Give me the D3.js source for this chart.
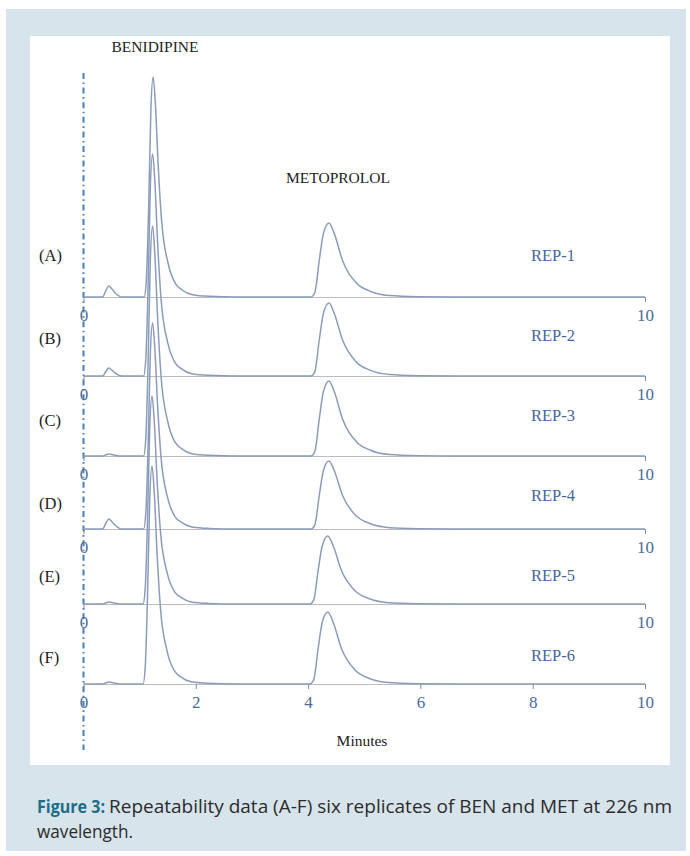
<!DOCTYPE html>
<html>
<head>
<meta charset="utf-8">
<script src="https://cdn.jsdelivr.net/npm/d3@7"></script>
<style>
  body { margin: 0; background: #fff; }
  .serif { font-family: "Liberation Serif", "DejaVu Serif", serif; }
</style>
</head>
<body>
<div class="wrapper"></div>
<script>
// replicate labels
const traceLabels = ["(A)", "(B)", "(C)", "(D)", "(E)", "(F)"];
const repLabels = ["REP-1", "REP-2", "REP-3", "REP-4", "REP-5", "REP-6"];

// peak apex times (min) and heights (signal units)
const impTime = [0.45, 0.45, 0.45, 0.45, 0.45, 0.45];
const impHeight = [11, 8, 2, 10, 2, 2];
const benTime = [1.24, 1.23, 1.23, 1.23, 1.22, 1.22];
const benHeight = [220, 222, 230, 206, 208, 218];
const metTime = [4.37, 4.37, 4.37, 4.37, 4.35, 4.35];
const metHeight = [74, 73, 75, 68, 68, 72];

// peak outlines: offset from apex (min) and fraction of apex height
const impShapeDt = [-0.11, -0.05, 0, 0.06, 0.13, 0.23];
const impShapeRel = [0, 0.6, 1, 0.7, 0.3, 0];
const benShapeDt = [-0.16, -0.12, -0.08, -0.04, 0, 0.04, 0.09, 0.15, 0.27, 0.40, 0.51, 0.70, 1.0, 1.5];
const benShapeRel = [0, 0.08, 0.4, 0.85, 1, 0.88, 0.6, 0.35, 0.15, 0.06, 0.033, 0.01, 0.003, 0];
const metShapeDt = [-0.32, -0.25, -0.17, -0.10, 0, 0.10, 0.24, 0.49, 0.73, 1.08, 1.6, 2.3];
const metShapeRel = [0, 0.06, 0.5, 0.85, 1, 0.85, 0.5, 0.19, 0.08, 0.02, 0.005, 0];

// axis ticks
const topTicks = [0, 10];
const bottomTicks = [0, 2, 4, 6, 8, 10];

// layout
const W = 690, H = 856;
const baseY = [297, 376, 456, 529, 604, 684];
const labelY = [255, 338, 420, 503, 576, 657];
const repY = [255, 335, 415, 495, 575, 655];

const svg = d3.select(".wrapper").append("svg")
    .attr("width", W)
    .attr("height", H);

// frame
svg.append("rect").attr("x", 6).attr("y", 9).attr("width", 680).attr("height", 842).attr("fill", "#d7e4ec");
svg.append("rect").attr("x", 30).attr("y", 36).attr("width", 640).attr("height", 729).attr("fill", "#fff");

var x = d3.scaleLinear().domain([0, 10]).range([83.5, 645]);

function peakPoints(t0, h, dts, rels) {
  return dts.map(function(dt, i) { return [t0 + dt, h * rels[i]]; });
}

var line = d3.line().curve(d3.curveMonotoneX);

// dash-dot y line
svg.append("line")
    .attr("x1", x(0)).attr("x2", x(0))
    .attr("y1", 73).attr("y2", 750)
    .attr("stroke", "#4a7db5")
    .attr("stroke-width", 2)
    .attr("stroke-dasharray", "6,3.5,1.6,3.5");

traceLabels.forEach(function(lab, i) {
  var y = d3.scaleLinear().domain([0, 250]).range([baseY[i], baseY[i] - 250]);
  var g = svg.append("g");

  // axis (baseline)
  var ax = d3.axisBottom(x)
      .tickValues(i === 5 ? bottomTicks : topTicks)
      .tickFormat(d3.format("d"))
      .tickSize(5)
      .tickSizeOuter(0)
      .tickPadding(7);
  var axg = g.append("g")
      .attr("transform", "translate(0," + baseY[i] + ")")
      .call(ax);
  axg.select(".domain").attr("stroke", "#bcbcbc").attr("stroke-width", 1.2);
  axg.selectAll(".tick line").attr("stroke", "#8a8a8a");
  axg.selectAll(".tick text")
      .attr("class", "serif")
      .attr("font-size", 17)
      .attr("fill", "#4a6c98");

  // chromatogram trace
  var pts = [[0, 0]]
      .concat(peakPoints(impTime[i], impHeight[i], impShapeDt, impShapeRel))
      .concat(peakPoints(benTime[i], benHeight[i], benShapeDt, benShapeRel))
      .concat(peakPoints(metTime[i], metHeight[i], metShapeDt, metShapeRel))
      .concat([[10, 0]]);
  g.append("path")
      .attr("d", line(pts.map(function(p) { return [x(p[0]), y(p[1])]; })))
      .attr("fill", "none")
      .attr("stroke", "#8b9cbb")
      .attr("stroke-width", 1.5);

  g.append("text")
      .attr("class", "serif")
      .attr("x", 39).attr("y", labelY[i])
      .attr("dy", "0.35em")
      .attr("font-size", 16.5)
      .attr("fill", "#222")
      .text(lab);

  g.append("text")
      .attr("class", "serif")
      .attr("x", 553).attr("y", repY[i])
      .attr("dy", "0.35em")
      .attr("text-anchor", "middle")
      .attr("font-size", 16.5)
      .attr("fill", "#46659a")
      .text(repLabels[i]);
});

function title(txt, cx, cy) {
  svg.append("text").attr("class", "serif")
      .attr("x", cx).attr("y", cy).attr("dy", "0.35em")
      .attr("text-anchor", "middle").attr("font-size", 15.5).attr("fill", "#222")
      .text(txt);
}
title("BENIDIPINE", 155, 47);
title("METOPROLOL", 338, 178);
title("Minutes", 362, 741);

// caption
var capFont = '"Open Sans", sans-serif';
var fig = svg.append("text")
    .attr("x", 37).attr("y", 813)
    .attr("font-family", capFont).attr("font-size", 17.5).attr("font-weight", "bold")
    .attr("fill", "#1c6e86")
    .attr("textLength", 68).attr("lengthAdjust", "spacingAndGlyphs")
    .text("Figure 3:");
svg.append("text")
    .attr("x", 109).attr("y", 813)
    .attr("font-family", capFont).attr("font-size", 17.5)
    .attr("fill", "#2b2b2b")
    .attr("textLength", 563).attr("lengthAdjust", "spacingAndGlyphs")
    .text("Repeatability data (A-F) six replicates of BEN and MET at 226 nm");
svg.append("text")
    .attr("x", 37).attr("y", 838)
    .attr("font-family", capFont).attr("font-size", 17.5)
    .attr("fill", "#2b2b2b")
    .attr("textLength", 96).attr("lengthAdjust", "spacingAndGlyphs")
    .text("wavelength.");
</script>
</body>
</html>
